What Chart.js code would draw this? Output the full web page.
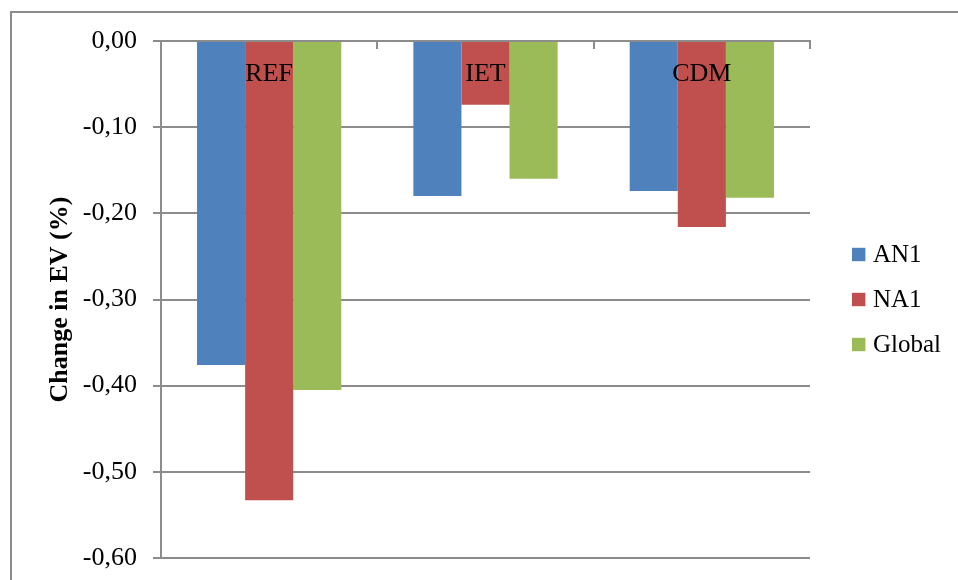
<!DOCTYPE html>
<html><head><meta charset="utf-8">
<script src="https://cdn.jsdelivr.net/npm/chart.js@4.4.1/dist/chart.umd.min.js"></script>
<style>
html,body{margin:0;padding:0;background:#fff;overflow:hidden;width:958px;height:580px}
#frame{position:absolute;left:10px;top:11px;width:1200px;height:1000px;border-left:2px solid #8c8c8c;border-top:2px solid #8c8c8c;box-sizing:border-box}
#wrap{position:absolute;left:0;top:0;width:958px;height:580px}
</style></head><body>
<div id="frame"></div>
<div id="wrap"><canvas id="c" width="958" height="580"></canvas></div>
<script>
const categories = ['REF', 'IET', 'CDM'];
const seriesNames = ['AN1', 'NA1', 'Global'];
const an1Values = [-0.376, -0.180, -0.174];
const na1Values = [-0.533, -0.074, -0.216];
const globalValues = [-0.405, -0.160, -0.182];
const seriesColors = ['#4F81BD', '#C0504D', '#9BBB59'];
const yMin = -0.6, yMax = 0, yStep = 0.1;

const FONT = "'Liberation Serif', 'Times New Roman', serif";
const GRID = '#8c8c8c';

const sideLegend = {
  id: 'sideLegend',
  afterDraw(chart) {
    const ctx = chart.ctx;
    const ca = chart.chartArea;
    const mid = (ca.top + ca.bottom) / 2;
    const n = chart.data.datasets.length;
    ctx.save();
    ctx.font = '25px ' + FONT;
    ctx.textBaseline = 'middle';
    ctx.textAlign = 'left';
    chart.data.datasets.forEach((d, i) => {
      const cy = mid + (i - (n - 1) / 2) * 45;
      ctx.fillStyle = d.backgroundColor;
      ctx.fillRect(ca.right + 42, cy - 6.7, 13.4, 13.4);
      ctx.fillStyle = '#000';
      ctx.fillText(d.label, ca.right + 63, cy + 1);
    });
    ctx.restore();
  }
};

const categoryLabels = {
  id: 'categoryLabels',
  afterDatasetsDraw(chart) {
    const ctx = chart.ctx;
    const xs = chart.scales.x, ys = chart.scales.y;
    const base = ys.getPixelForValue(0);
    ctx.save();
    ctx.font = '26px ' + FONT;
    ctx.fillStyle = '#000';
    ctx.textAlign = 'center';
    ctx.textBaseline = 'alphabetic';
    chart.data.labels.forEach((lab, i) => {
      ctx.fillText(lab, xs.getPixelForValue(i), base + 39.5);
    });
    ctx.restore();
  }
};

new Chart(document.getElementById('c'), {
  type: 'bar',
  data: {
    labels: categories,
    datasets: [
      { label: seriesNames[0], data: an1Values, backgroundColor: seriesColors[0] },
      { label: seriesNames[1], data: na1Values, backgroundColor: seriesColors[1] },
      { label: seriesNames[2], data: globalValues, backgroundColor: seriesColors[2] }
    ]
  },
  options: {
    responsive: false,
    animation: false,
    devicePixelRatio: 1,
    layout: { padding: { left: 0, top: 41, right: 148, bottom: 22 } },
    datasets: { bar: { categoryPercentage: 0.667, barPercentage: 1.0, borderWidth: 0 } },
    plugins: { legend: { display: false }, tooltip: { enabled: false } },
    scales: {
      x: {
        type: 'category',
        position: { y: 0 },
        offset: true,
        z: 1,
        afterFit: (s) => { s.height = 0; s.paddingLeft = 0; s.paddingRight = 0; },
        grid: { drawOnChartArea: false, drawTicks: true, tickLength: 7, color: GRID, lineWidth: 2, offset: true },
        border: { display: true, color: GRID, width: 2 },
        ticks: { display: false }
      },
      y: {
        min: yMin,
        max: yMax,
        position: 'left',
        afterFit: (s) => { s.width = 161; s.paddingTop = 0; s.paddingBottom = 0; },
        ticks: {
          stepSize: yStep,
          font: { family: FONT, size: 26 },
          color: '#000',
          padding: 16,
          callback: (v) => (Math.abs(v) < 1e-9 ? 0 : v).toFixed(2).replace('.', ',')
        },
        grid: { color: GRID, lineWidth: 2, tickLength: 8, drawTicks: true },
        border: { display: true, color: GRID, width: 2 },
        title: {
          display: true,
          text: 'Change in EV (%)',
          font: { family: FONT, size: 26, weight: 'bold' },
          color: '#000',
          padding: { top: 45, bottom: 0 }
        }
      }
    }
  },
  plugins: [sideLegend, categoryLabels]
});
</script>
</body></html>
